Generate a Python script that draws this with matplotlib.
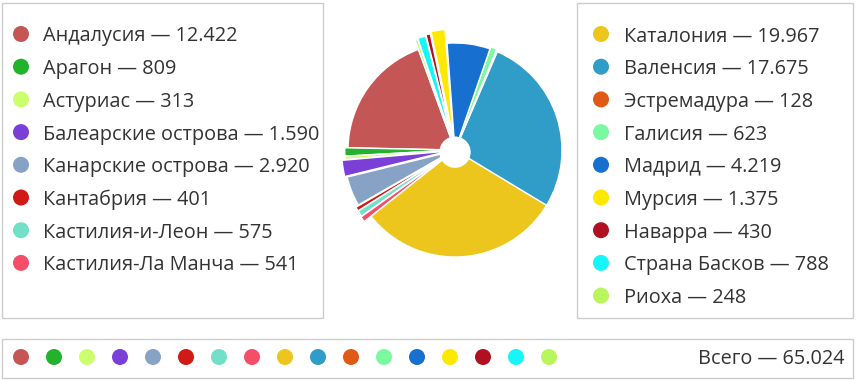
import matplotlib
matplotlib.use('Agg')
import matplotlib.pyplot as plt
from matplotlib.patches import Rectangle, Circle

plt.rcParams['font.family'] = ['Open Sans', 'DejaVu Sans']

# данные по регионам
regions = ['Андалусия', 'Арагон', 'Астуриас', 'Балеарские острова', 'Канарские острова',
           'Кантабрия', 'Кастилия-и-Леон', 'Кастилия-Ла Манча', 'Каталония', 'Валенсия',
           'Эстремадура', 'Галисия', 'Мадрид', 'Мурсия', 'Наварра', 'Страна Басков', 'Риоха']
values = [12422, 809, 313, 1590, 2920, 401, 575, 541, 19967, 17675,
          128, 623, 4219, 1375, 430, 788, 248]
value_labels = ['12.422', '809', '313', '1.590', '2.920', '401', '575', '541', '19.967', '17.675',
                '128', '623', '4.219', '1.375', '430', '788', '248']
colors = ['#c55656', '#22b22c', '#ccff6e', '#7a3fd6', '#86a3c6', '#d11a15', '#72e0c8', '#f54e69',
          '#ecc61c', '#2f9dc8', '#e05a16', '#7bf9a0', '#176fcf', '#ffe800', '#b0101f', '#16f5f7', '#b9f55c']
explode = [0, 0.03, 0.03, 0.06, 0.04, 0.07, 0.07, 0.08, 0, 0,
           0.02, 0.02, 0, 0.13, 0.11, 0.10, 0.09]
total_label = 'Всего — 65.024'

W, H = 856, 380
fig = plt.figure(figsize=(W / 100, H / 100), dpi=100)

# слой для рамок и легенды в пикселях
ov = fig.add_axes([0, 0, 1, 1])
ov.set_xlim(0, W)
ov.set_ylim(H, 0)
ov.axis('off')

box_col = '#cccccc'
txt_col = '#333333'
fs = 14.3
ov.add_patch(Rectangle((2.5, 2.5), 321, 315, fill=False, ec=box_col, lw=1))
ov.add_patch(Rectangle((577.5, 2.5), 276, 315, fill=False, ec=box_col, lw=1))
ov.add_patch(Rectangle((2.5, 338.5), 851, 39, fill=False, ec=box_col, lw=1))

step = 32.7
for i in range(8):
    y = 34 + i * step
    ov.add_patch(Circle((21, y), 8, color=colors[i], lw=0))
    ov.text(43, y, f'{regions[i]} — {value_labels[i]}', fontsize=fs, color=txt_col,
            va='center_baseline', ha='left')
for j, i in enumerate(range(8, 17)):
    y = 34 + j * step
    ov.add_patch(Circle((601, y), 8, color=colors[i], lw=0))
    ov.text(624, y, f'{regions[i]} — {value_labels[i]}', fontsize=fs, color=txt_col,
            va='center_baseline', ha='left')

for i in range(17):
    ov.add_patch(Circle((21 + i * 33, 357), 8, color=colors[i], lw=0))
ov.text(845, 357, total_label, fontsize=fs, color=txt_col, va='center_baseline', ha='right')

# круговая диаграмма
R = 107
cx, cy = 455, 150
half = 130
ax = fig.add_axes([(cx - half) / W, (H - cy - half) / H, 2 * half / W, 2 * half / H])
ax.pie(values, colors=colors, explode=explode, startangle=110, counterclock=True,
       radius=1, wedgeprops=dict(edgecolor='white', linewidth=1))
ax.add_patch(Circle((0, -0.02), 0.14, color='white', zorder=5))
lim = half / R
ax.set_xlim(-lim, lim)
ax.set_ylim(-lim, lim)
ax.set_aspect('equal')
ax.axis('off')

fig.savefig('out.png', dpi=100)
